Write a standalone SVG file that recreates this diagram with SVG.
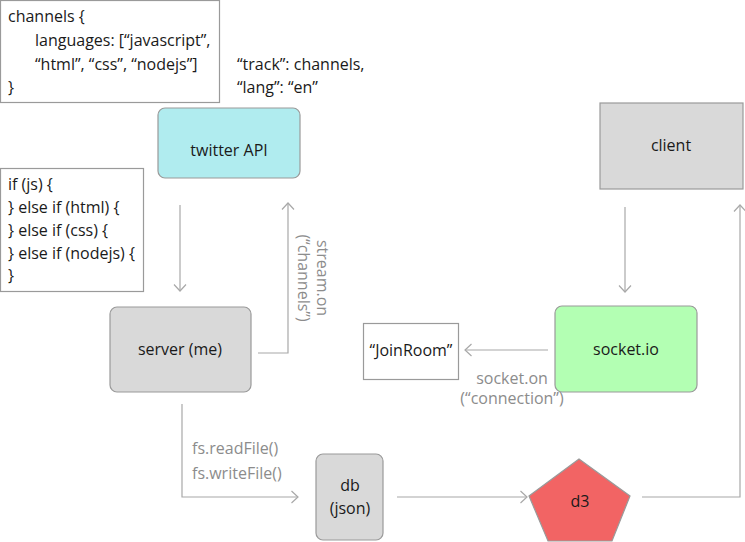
<svg xmlns="http://www.w3.org/2000/svg" width="745" height="542" viewBox="0 0 745 542">
<defs>
<style>
text{font-family:"Open Sans","Noto Sans","DejaVu Sans",sans-serif;font-size:16px;fill:#1a1a1a}
.lbl{fill:#8c8c8c}
.c{text-anchor:middle}
.box{stroke:#9a9a9a;stroke-width:1.2}
.conn{fill:none;stroke:#a8a8a8;stroke-width:1.2}
</style>
<marker id="ah" viewBox="0 0 9 14" refX="7.5" refY="7" markerWidth="9" markerHeight="14" markerUnits="userSpaceOnUse" orient="auto">
<path d="M1,1 L7.5,7 L1,13" fill="none" stroke="#a8a8a8" stroke-width="1.2"/>
</marker>
</defs>
<rect width="745" height="542" fill="#ffffff"/>
<g id="connectors">
<path class="conn" d="M180,205 V291" marker-end="url(#ah)"/>
<path class="conn" d="M258,353 H288 V203" marker-end="url(#ah)"/>
<path class="conn" d="M548,350 H465" marker-end="url(#ah)"/>
<path class="conn" d="M625,207 V292" marker-end="url(#ah)"/>
<path class="conn" d="M182,404 V497 H298" marker-end="url(#ah)"/>
<path class="conn" d="M397,497 H527" marker-end="url(#ah)"/>
<path class="conn" d="M642,497 H740 V205" marker-end="url(#ah)"/>
</g>
<g id="code-channels">
<rect class="box" x="0.5" y="0.5" width="219" height="102" fill="#ffffff"/>
<text x="8" y="22">channels {</text>
<text x="35" y="46">languages: [“javascript”,</text>
<text x="35" y="70">“html”, “css”, “nodejs”]</text>
<text x="8" y="93">}</text>
</g>
<g id="track-text">
<text x="237" y="70">“track”: channels,</text>
<text x="237" y="93">“lang”: “en”</text>
</g>
<g id="twitter">
<rect class="box" x="158" y="108" width="142" height="70" rx="7" fill="#b0ecef"/>
<text class="c" x="229" y="156">twitter API</text>
</g>
<g id="code-if">
<rect class="box" x="0.5" y="168.5" width="143" height="123" fill="#ffffff"/>
<text x="8" y="190">if (js) {</text>
<text x="8" y="213">} else if (html) {</text>
<text x="8" y="236">} else if (css) {</text>
<text x="8" y="259">} else if (nodejs) {</text>
<text x="8" y="281">}</text>
</g>
<g id="server">
<rect class="box" x="110" y="307" width="141" height="85" rx="7" fill="#d9d9d9"/>
<text class="c" x="180" y="355">server (me)</text>
</g>
<g id="stream-label">
<text class="lbl c" transform="translate(278,278) rotate(90)"><tspan x="0" y="-39">stream.on</tspan><tspan x="0" y="-20">(“channels”)</tspan></text>
</g>
<g id="joinroom">
<rect class="box" x="363.5" y="323.5" width="95" height="56" fill="#ffffff"/>
<text class="c" x="411" y="356">“JoinRoom”</text>
</g>
<g id="socketio">
<rect class="box" x="555" y="306" width="142" height="86" rx="7" fill="#b3ffb3"/>
<text class="c" x="626" y="355">socket.io</text>
</g>
<g id="socket-label">
<text class="lbl c" x="512" y="384">socket.on</text>
<text class="lbl c" x="512" y="404">(“connection”)</text>
</g>
<g id="client">
<rect class="box" x="600" y="103" width="143" height="86" fill="#d9d9d9"/>
<text class="c" x="671" y="151">client</text>
</g>
<g id="fs-label">
<text class="lbl" x="192" y="454">fs.readFile()</text>
<text class="lbl" x="192" y="479">fs.writeFile()</text>
</g>
<g id="db">
<rect class="box" x="316" y="454" width="67" height="86" rx="7" fill="#d9d9d9"/>
<text class="c" x="350" y="491">db</text>
<text class="c" x="350" y="514">(json)</text>
</g>
<g id="d3">
<polygon class="box" points="579,459 630,496 612,541 548,541 529,496" fill="#f26464"/>
<text class="c" x="580" y="507">d3</text>
</g>
</svg>
